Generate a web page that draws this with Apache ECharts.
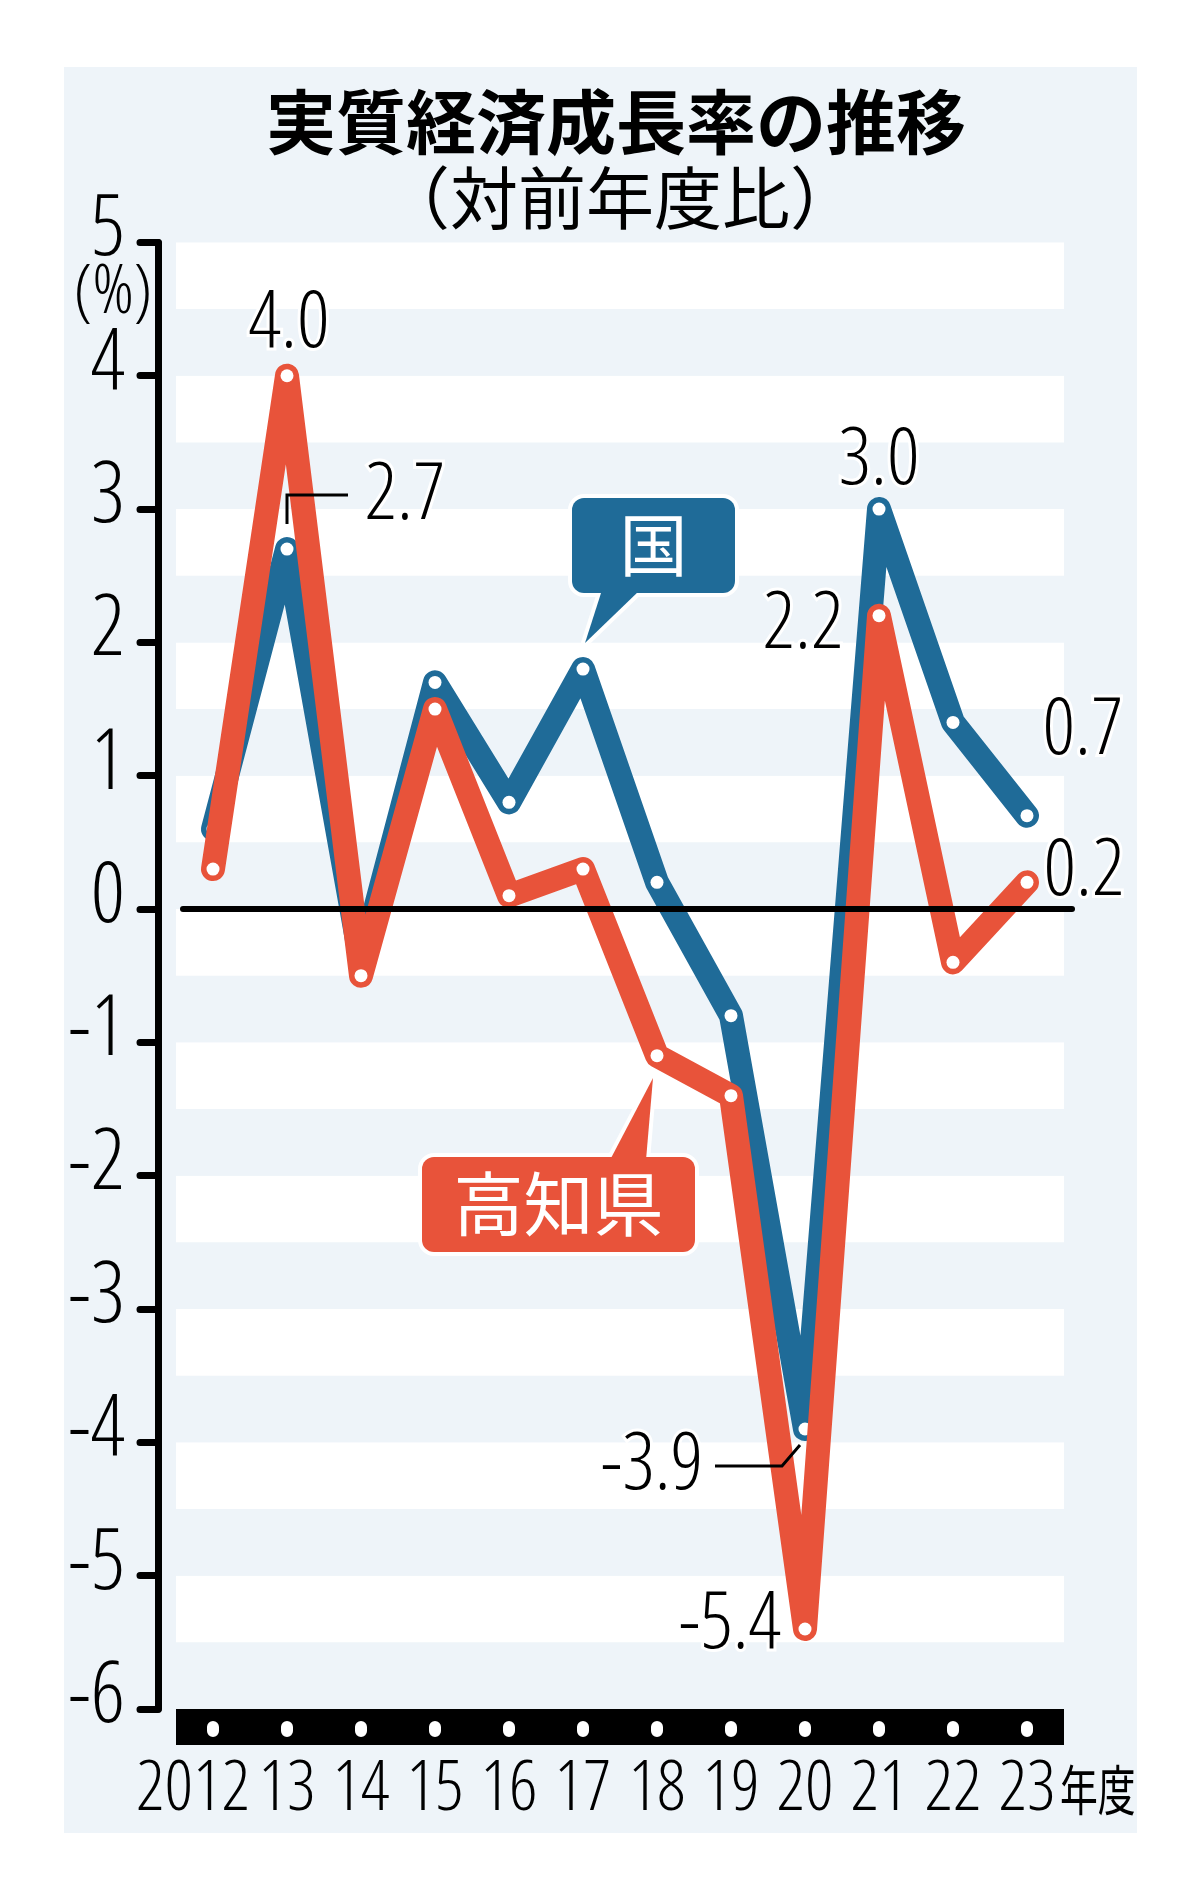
<!DOCTYPE html>
<html>
<head>
<meta charset="utf-8">
<title>実質経済成長率の推移</title>
<script src="https://cdn.jsdelivr.net/npm/echarts@6/dist/echarts.min.js"></script>
<style>
  html, body { margin: 0; padding: 0; background: #fff; }
  #wrap { position: relative; width: 1200px; height: 1900px; }
  #panel { position: absolute; left: 64px; top: 67px; width: 1073px; height: 1766px; background: #eef4f9; }
  #chart { position: absolute; left: 0; top: 0; width: 1200px; height: 1900px; }
</style>
</head>
<body>
<div id="wrap"><div id="panel"></div><div id="chart"></div></div>
<script>
// 年度
const years = ['2012', '13', '14', '15', '16', '17', '18', '19', '20', '21', '22', '23'];
// 国の実質経済成長率(%)
const national = [0.6, 2.7, -0.4, 1.7, 0.8, 1.8, 0.2, -0.8, -3.9, 3.0, 1.4, 0.7];
// 高知県の実質経済成長率(%)
const kochi = [0.3, 4.0, -0.5, 1.5, 0.1, 0.3, -1.1, -1.4, -5.4, 2.2, -0.4, 0.2];
// 縦軸の範囲
const yMin = -6;
const yMax = 5;

const BLUE = '#1f6b98';
const ORANGE = '#e8533a';
const PANEL = '#eef4f9';
// 数字は細めの長体で
const NUM = "'Open Sans', 'Liberation Sans', sans-serif";
const NUM_W = 'condensed 300';
const JP = "'Noto Sans CJK JP', sans-serif";

// 数値を出す点: index -> ラベルのずらし量
const nationalLabelAt = { 1: [118, -53], 8: [-153, 37], 9: [0, -48], 11: [56, -85] };
const kochiLabelAt = { 1: [2, -52], 8: [-75, -4], 9: [-76, 9], 11: [57, -10] };

function toData(values, labelAt) {
  return values.map((v, i) => {
    if (!labelAt[i]) return v;
    return { value: v, label: { show: true, offset: labelAt[i] } };
  });
}

const valueLabel = {
  show: false,
  position: 'inside',
  formatter: p => p.value.toFixed(1),
  fontFamily: NUM,
  fontWeight: NUM_W,
  fontSize: 80,
  color: '#000',
  textBorderColor: '#fff',
  textBorderWidth: 6
};

function lineSeries(name, values, labelAt, color, z) {
  return {
    name,
    type: 'line',
    data: toData(values, labelAt),
    z,
    symbol: 'circle',
    symbolSize: 13,
    itemStyle: { color: '#fff', borderWidth: 0 },
    lineStyle: { color, width: 24, cap: 'round', join: 'round' },
    label: valueLabel,
    emphasis: { disabled: true }
  };
}

const chart = echarts.init(document.getElementById('chart'));
const option = {
  animation: false,
  grid: { left: 176, right: 136, top: 242.4, bottom: 191 },
  xAxis: [
    {
      type: 'category',
      data: years,
      boundaryGap: true,
      offset: 18,
      axisLine: { onZero: false, lineStyle: { color: '#000', width: 36, cap: 'butt' } },
      axisTick: { show: false },
      axisLabel: {
        interval: 0,
        margin: 28,
        fontFamily: NUM,
        fontWeight: NUM_W,
        fontSize: 70,
        color: '#000',
        formatter: (v, i) => (i === 0 ? '{first|' + v + '}' : v),
        rich: { first: { fontFamily: NUM, fontWeight: NUM_W, fontSize: 70, color: '#000', padding: [0, 40, 0, 0] } }
      }
    },
    {
      // 黒帯の上の白い点
      type: 'category',
      data: years,
      position: 'bottom',
      boundaryGap: true,
      offset: 18,
      z: 5,
      axisLine: { show: false, onZero: false },
      axisTick: { show: true, interval: 0, alignWithLabel: true, length: 4, lineStyle: { color: '#fff', width: 12, cap: 'round' } },
      axisLabel: { show: false }
    }
  ],
  yAxis: [
    {
      type: 'value',
      min: yMin,
      max: yMax,
      interval: 1,
      offset: 18,
      axisLine: { show: true, lineStyle: { color: '#000', width: 7, cap: 'round' } },
      axisTick: { show: true, length: 18, lineStyle: { color: '#000', width: 7, cap: 'round' } },
      axisLabel: {
        fontFamily: NUM, fontWeight: NUM_W, fontSize: 84, color: '#000',
        margin: 33, verticalAlign: 'bottom', lineHeight: 22
      },
      splitLine: { show: false }
    },
    {
      type: 'value',
      min: yMin,
      max: yMax,
      interval: 0.5,
      axisLine: { show: false },
      axisTick: { show: false },
      axisLabel: { show: false },
      splitLine: { show: false },
      splitArea: { show: true, areaStyle: { color: [PANEL, '#fff'] } }
    }
  ],
  series: [
    lineSeries('国', national, nationalLabelAt, BLUE, 3),
    lineSeries('高知県', kochi, kochiLabelAt, ORANGE, 4)
  ]
};
chart.setOption(option);

// 注記類 (タイトル・ゼロ線・引き出し線・吹き出し)
const px = (s, i, v) => chart.convertToPixel({ seriesIndex: s }, [i, v]);
const y0 = px(0, 0, 0)[1];
const gridL = 176, gridR = 1200 - 136;
const pA = px(0, 1, national[1]);
const pB = px(0, 8, national[8]);
const pEnd = px(0, 11, 0);

function text(id, t, x, y, size, opts) {
  return {
    id, type: 'text', z: 50, x, y, silent: true,
    style: Object.assign({
      text: t, x: 0, y: 0, align: 'center', verticalAlign: 'middle',
      fontFamily: JP, fontSize: size, fill: '#000'
    }, opts || {})
  };
}

function callout(id, box, tail, color, label, size) {
  const rect = { x: box[0], y: box[1], width: box[2], height: box[3], r: 12 };
  return {
    id, type: 'group',
    children: [
      { type: 'rect', z: 60, shape: rect, style: { fill: color, stroke: '#fff', lineWidth: 8 } },
      { type: 'polygon', z: 60, shape: { points: tail }, style: { fill: color, stroke: '#fff', lineWidth: 8, lineJoin: 'round' } },
      { type: 'rect', z: 61, shape: rect, style: { fill: color } },
      { type: 'polygon', z: 61, shape: { points: tail }, style: { fill: color } },
      {
        type: 'text', z: 62,
        style: {
          text: label, x: box[0] + box[2] / 2, y: box[1] + box[3] / 2,
          align: 'center', verticalAlign: 'middle',
          fontFamily: JP, fontSize: size, fill: '#fff'
        }
      }
    ]
  };
}

chart.setOption({
  graphic: [
    text('t1', '実質経済成長率の推移', 616, 122, 70, { fontWeight: 'bold' }),
    text('t2', '（対前年度比）', 620, 198, 68),
    text('unit', '(%)', 113, 294, 68, { fontFamily: NUM, fontWeight: NUM_W }),
    {
      id: 'nendo', type: 'text', z: 50, silent: true,
      x: pEnd[0] + 33, y: 1790, scaleX: 0.7,
      style: { text: '年度', x: 0, y: 0, align: 'left', verticalAlign: 'middle', fontFamily: JP, fontSize: 54, fill: '#000' }
    },
    {
      id: 'zero', type: 'line', z: 20, silent: true,
      shape: { x1: gridL + 7, y1: y0, x2: gridR + 8, y2: y0 },
      style: { stroke: '#000', lineWidth: 6, lineCap: 'round' }
    },
    {
      id: 'lead27', type: 'polyline', z: 50, silent: true,
      shape: { points: [[pA[0], pA[1] - 25], [pA[0], pA[1] - 54], [pA[0] + 61, pA[1] - 54]] },
      style: { stroke: '#000', lineWidth: 3, fill: null }
    },
    {
      id: 'lead39', type: 'polyline', z: 50, silent: true,
      shape: { points: [[pB[0] - 90, pB[1] + 37], [pB[0] - 23, pB[1] + 37], [pB[0] - 5, pB[1] + 16]] },
      style: { stroke: '#000', lineWidth: 3, fill: null }
    },
    callout('c1', [572, 498, 163, 95], [[602, 590], [640, 590], [585, 643]], BLUE, '国', 68),
    callout('c2', [422, 1157, 273, 95], [[610, 1160], [646, 1160], [653, 1078]], ORANGE, '高知県', 70)
  ]
});
</script>
</body>
</html>
